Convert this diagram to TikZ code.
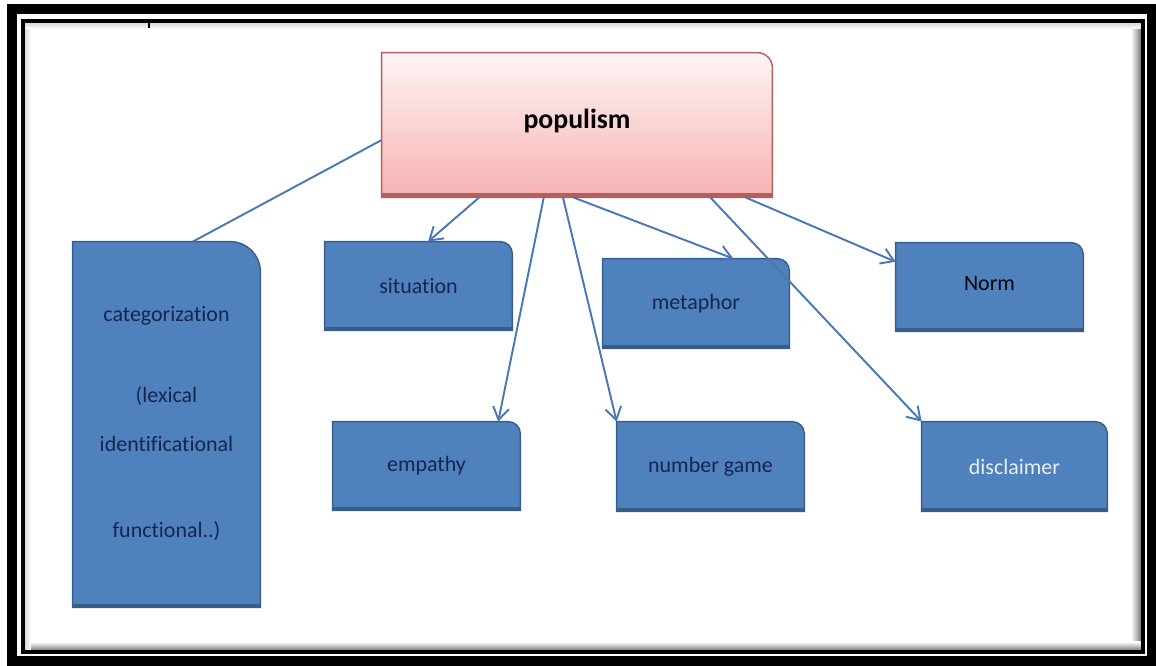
\documentclass[tikz,border=0pt]{standalone}
\usepackage{fontspec}
\setmainfont{Carlito}[Ligatures=NoCommon]
\usepackage{tikz}
\usetikzlibrary{positioning,arrows.meta,calc,backgrounds}
\definecolor{boxblue}{HTML}{4F81BD}
\definecolor{boxedge}{HTML}{385D8A}
\definecolor{boxtext}{HTML}{17264F}
\definecolor{distext}{HTML}{E8EEF7}
\definecolor{poptop}{HTML}{FFF4F4}
\definecolor{popbot}{HTML}{F7B2B2}
\definecolor{popedge}{HTML}{B45F5D}
\definecolor{linkblue}{HTML}{4A78B5}
\tikzset{
  tab/.style={minimum width=3.74cm, minimum height=1.76cm, inner sep=0pt,
              font=\fontsize{12.5}{15}\selectfont, text=boxtext},
  tabfill/.style={fill=boxblue, draw=boxedge, line width=0.8pt},
  popfill/.style={top color=poptop, bottom color=popbot, draw=popedge, line width=0.8pt},
  link/.style={draw=linkblue, line width=1.1pt},
  linkarr/.style={link, -{Straight Barb[length=2.5mm, width=3.2mm]}},
}
% outline of a box whose north east corner is rounded
\newcommand{\tabback}[3]{%
  \path[#3] (#1.south west) -- (#1.north west) -- ([xshift=-#2]#1.north east)
    arc[start angle=90, end angle=0, radius=#2] -- (#1.south east) -- cycle;
  \draw[boxedge, line width=2pt] ([yshift=1pt]#1.south west) -- ([yshift=1pt]#1.south east);}

\begin{document}
\begin{tikzpicture}
  \useasboundingbox (0,0) rectangle (23.12,13.32);
  % double frame with a soft inner shadow
  \draw[line width=0.2cm] (0.24,0.09) rectangle (23.03,13.13);
  \shade[left color=white, right color=black!50] (22.62,0.32) rectangle (22.81,12.86);
  \shade[top color=white, bottom color=black!50] (0.50,0.32) rectangle (22.81,0.48);
  \shade[right color=white, left color=black!15] (0.50,0.32) rectangle (0.62,12.86);
  \shade[bottom color=white, top color=black!15] (0.50,12.74) rectangle (22.81,12.86);
  \draw[line width=0.08cm] (0.46,0.28) rectangle (22.85,12.90);
  \draw[line width=0.04cm] (2.98,12.86) -- (2.98,12.76);

  % top box
  \node[font=\fontsize{15.8}{19}\selectfont\bfseries, minimum width=7.80cm,
        minimum height=2.88cm, inner sep=0pt] (pop) at (11.54,10.82) {\raisebox{0.26cm}{populism}};

  % blue boxes
  \node[tab, minimum height=7.30cm] (cat) at (3.33,4.83)
       {\raisebox{0.29cm}{\begin{tabular}{@{}c@{}}categorization\\[31pt] (lexical\\[13pt]
        identificational\\[34pt] functional..)\end{tabular}}};
  \node[tab] (sit) at (8.37,7.60) {situation};
  \node[tab] (emp) at (8.53,4.00) {empathy};
  \node[tab, minimum width=3.72cm, minimum height=1.78cm] (met) at (13.92,7.25) {metaphor};
  \node[tab, text=black!85!boxtext] (norm) at (19.79,7.58) {\raisebox{0.14cm}{Norm}};
  \node[tab, minimum height=1.78cm] (num) at (14.21,3.99) {number game};
  \node[tab, minimum width=3.70cm, minimum height=1.78cm, text=distext] (dis) at (20.29,3.99) {disclaimer};

  \begin{scope}[on background layer]
    \path[popfill] (pop.south west) -- (pop.north west) -- ([xshift=-0.3cm]pop.north east)
      arc[start angle=90, end angle=0, radius=0.3cm] -- (pop.south east) -- cycle;
    \draw[popedge, line width=2.5pt] ([yshift=1.2pt]pop.south west) -- ([yshift=1.2pt]pop.south east);
    \tabback{cat}{0.6cm}{tabfill}
    \tabback{sit}{0.24cm}{tabfill}
    \tabback{emp}{0.24cm}{tabfill}
    \tabback{met}{0.24cm}{tabfill}
    \tabback{norm}{0.24cm}{tabfill}
    \tabback{num}{0.24cm}{tabfill}
    \tabback{dis}{0.24cm}{tabfill}
  \end{scope}

  % connectors
  \draw[link] ($(pop.north west)!0.604!(pop.south west)$) -- ($(cat.north west)!0.64!(cat.north east)$);
  \draw[linkarr] ($(pop.south west)!0.25!(pop.south east)$) -- ($(sit.north west)!0.551!(sit.north east)$);
  \draw[linkarr] ($(pop.south west)!0.415!(pop.south east)$) -- ($(emp.north west)!0.882!(emp.north east)$);
  \draw[linkarr] ($(pop.south west)!0.464!(pop.south east)$) -- (num.north west);
  \draw[linkarr] ($(pop.south west)!0.49!(pop.south east)$) -- ($(met.north west)!0.70!(met.north east)$);
  \draw[linkarr] ($(pop.south west)!0.841!(pop.south east)$) -- (dis.north west);
  \draw[linkarr] ($(pop.south west)!0.931!(pop.south east)$) -- ($(norm.north west)!0.216!(norm.south west)$);
\end{tikzpicture}
\end{document}
